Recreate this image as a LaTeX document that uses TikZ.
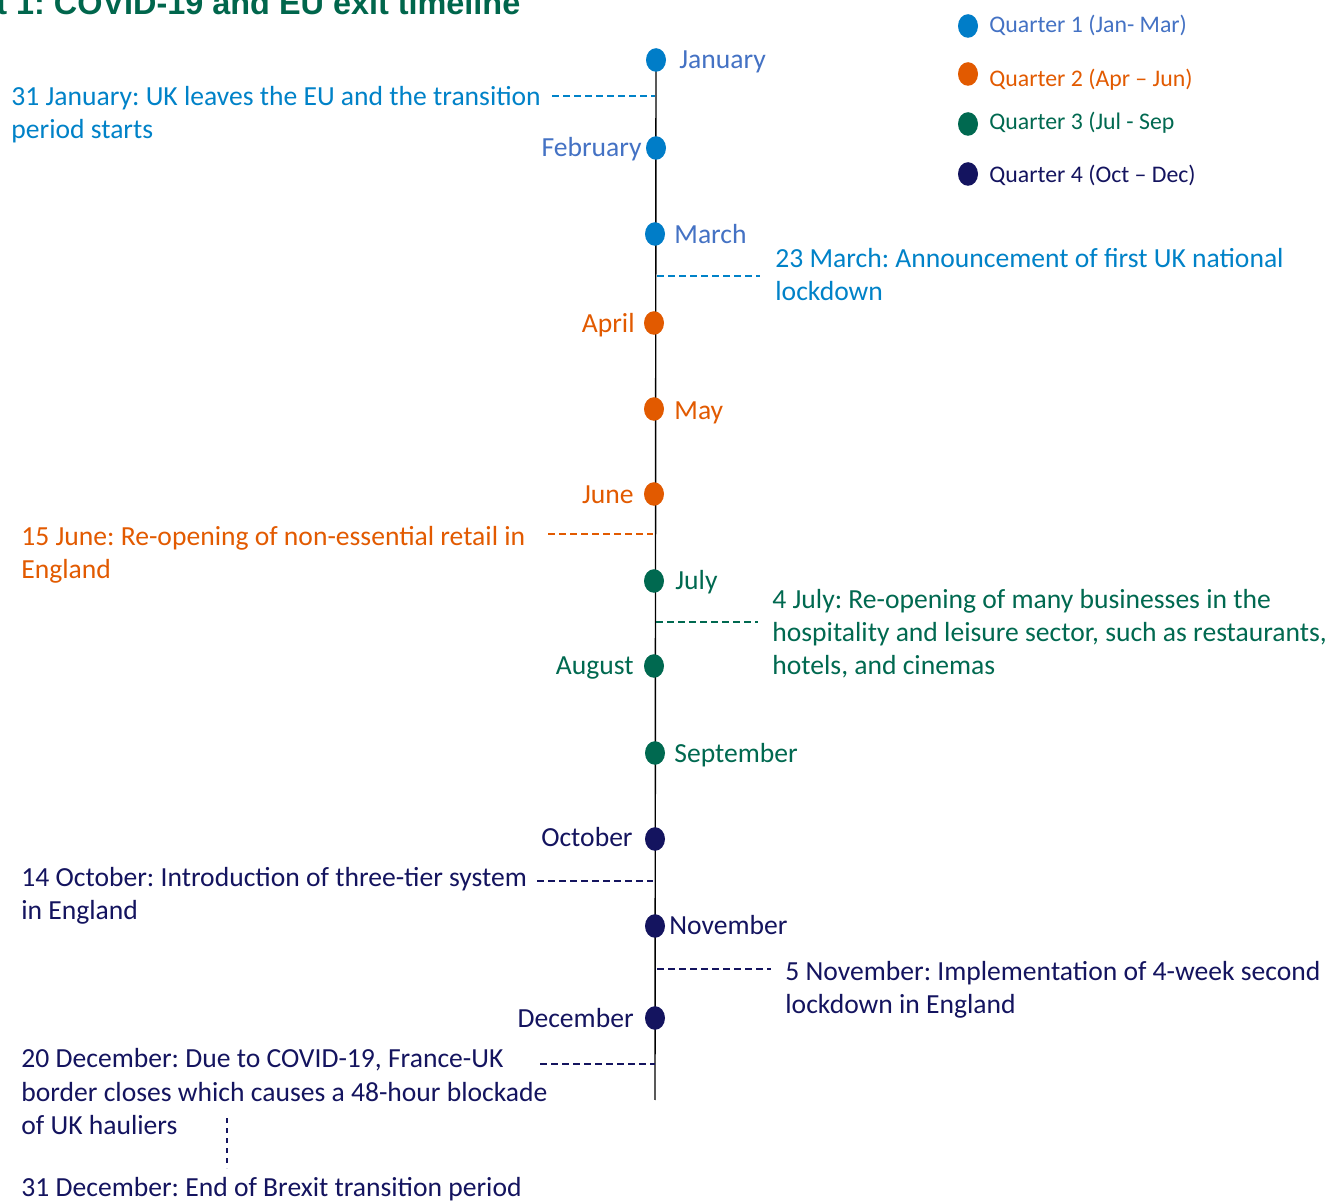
\documentclass[tikz,border=0pt]{standalone}
\usepackage{fontspec}
\setmainfont{Carlito}
\newfontfamily\titlefont{Liberation Sans}
\usetikzlibrary{shapes.geometric}
\definecolor{qonedot}{RGB}{0,125,200}
\definecolor{qonemonth}{RGB}{68,114,196}
\definecolor{qoneev}{RGB}{0,130,200}
\definecolor{qtwo}{RGB}{226,90,0}
\definecolor{qthree}{RGB}{0,105,80}
\definecolor{qfour}{RGB}{20,20,95}
\definecolor{titlegreen}{RGB}{0,102,76}
\frenchspacing
\begin{document}
\begin{tikzpicture}[x=0.5pt,y=-0.5pt,
  evtext/.style={font=\fontsize{13.8}{16.5}\selectfont, align=left, anchor=base west, inner sep=0pt},
  monthR/.style={font=\fontsize{13.8}{16.5}\selectfont, anchor=base west, inner sep=0pt},
  monthL/.style={font=\fontsize{13.8}{16.5}\selectfont, anchor=base east, inner sep=0pt},
  legtext/.style={font=\fontsize{11.9}{14}\selectfont, anchor=base west, inner sep=0pt},
  dot/.style={ellipse, minimum width=10pt, minimum height=11.8pt, inner sep=0pt},
  evline/.style={dash pattern=on 3.5pt off 2pt, line width=0.7pt},
  tline/.style={line width=0.7pt, black}]
\useasboundingbox (0,0) rectangle (1329,1202);
\clip (0,0) rectangle (1329,1202);
\fill[white] (0,0) rectangle (1329,1202);

% title
\node[anchor=base west, inner sep=0pt, text=titlegreen, font=\titlefont\bfseries\fontsize{16.2}{19}\selectfont] (title) at (-4,15) {t 1: COVID-19 and EU exit timeline};

% timeline
\coordinate (ttop) at (656,60);
\coordinate (tbot) at (655,1100);
\draw[tline] (ttop) -- (tbot);

% month dots
\node[dot, fill=qonedot] (jan) at (656,60) {};
\node[dot, fill=qonedot] (feb) at (656,148) {};
\node[dot, fill=qonedot] (mar) at (655,234) {};
\node[dot, fill=qtwo] (apr) at (654,323) {};
\node[dot, fill=qtwo] (may) at (654,409) {};
\node[dot, fill=qtwo] (jun) at (654,494) {};
\node[dot, fill=qthree] (jul) at (654,581) {};
\node[dot, fill=qthree] (aug) at (654,666) {};
\node[dot, fill=qthree] (sep) at (655,753) {};
\node[dot, fill=qfour] (oct) at (655,839) {};
\node[dot, fill=qfour] (nov) at (655,926) {};
\node[dot, fill=qfour] (dec) at (655,1018) {};

% month labels
\node[monthR, text=qonemonth] (janl) at (679,69) {January};
\node[monthL, text=qonemonth] (febl) at (642,157) {February};
\node[monthR, text=qonemonth] (marl) at (674,244) {March};
\node[monthL, text=qtwo] (aprl) at (635,333) {April};
\node[monthR, text=qtwo] (mayl) at (674,420) {May};
\node[monthL, text=qtwo] (junl) at (634,504) {June};
\node[monthR, text=qthree] (jull) at (675,590) {July};
\node[monthL, text=qthree] (augl) at (634,675) {August};
\node[monthR, text=qthree] (sepl) at (674,763) {September};
\node[monthL, text=qfour] (octl) at (633,847) {October};
\node[monthR, text=qfour] (novl) at (669,935) {November};
\node[monthL, text=qfour] (decl) at (634,1028) {December};

% events (base anchor = baseline of last line)
\node[evtext, text=qoneev] (ev1) at (11,139) {31 January: UK leaves the EU and the transition\\period starts};
\coordinate (ev1a) at (552,96); \coordinate (ev1b) at (655,96);
\draw[evline, qoneev] (ev1a) -- (ev1b);

\node[evtext, text=qoneev] (ev2) at (775,301) {23 March: Announcement of first UK national\\lockdown};
\coordinate (ev2a) at (657,276); \coordinate (ev2b) at (760,276);
\draw[evline, qoneev] (ev2a) -- (ev2b);

\node[evtext, text=qtwo] (ev3) at (21,579) {15 June: Re-opening of non-essential retail in\\England};
\coordinate (ev3a) at (548,534); \coordinate (ev3b) at (653,534);
\draw[evline, qtwo] (ev3a) -- (ev3b);

\node[evtext, text=qthree] (ev4) at (772,675) {4 July: Re-opening of many businesses in the\\hospitality and leisure sector, such as restaurants,\\hotels, and cinemas};
\coordinate (ev4a) at (656,622); \coordinate (ev4b) at (758,622);
\draw[evline, qthree] (ev4a) -- (ev4b);

\node[evtext, text=qfour] (ev5) at (21,920) {14 October: Introduction of three-tier system\\in England};
\coordinate (ev5a) at (537,881); \coordinate (ev5b) at (653,881);
\draw[evline, qfour] (ev5a) -- (ev5b);

\node[evtext, text=qfour] (ev6) at (785,1014) {5 November: Implementation of 4-week second\\lockdown in England};
\coordinate (ev6a) at (657,969); \coordinate (ev6b) at (771,969);
\draw[evline, qfour] (ev6a) -- (ev6b);

\node[evtext, text=qfour] (ev7) at (21,1134) {20 December: Due to COVID-19, France-UK\\border closes which causes a 48-hour blockade\\of UK hauliers};
\coordinate (ev7a) at (540,1064); \coordinate (ev7b) at (655,1064);
\draw[evline, qfour] (ev7a) -- (ev7b);

\node[evtext, text=qfour] (ev8) at (21,1196) {31 December: End of Brexit transition period};
\coordinate (ev8a) at (227,1118); \coordinate (ev8b) at (227,1168);
\draw[qfour, line width=0.7pt, dash pattern=on 2.5pt off 2.5pt] (ev8a) -- (ev8b);

% legend
\node[dot, fill=qonedot] (lg1) at (968,26) {};
\node[dot, fill=qtwo] (lg2) at (968,74) {};
\node[dot, fill=qthree] (lg3) at (968,124) {};
\node[dot, fill=qfour] (lg4) at (968,174) {};
\node[legtext, text=qonemonth] (lg1t) at (989,33) {Quarter 1 (Jan- Mar)};
\node[legtext, text=qtwo] (lg2t) at (989,87) {Quarter 2 (Apr -- Jun)};
\node[legtext, text=qthree] (lg3t) at (989,130) {Quarter 3 (Jul - Sep};
\node[legtext, text=qfour] (lg4t) at (989,183) {Quarter 4 (Oct -- Dec)};
\end{tikzpicture}
\end{document}
